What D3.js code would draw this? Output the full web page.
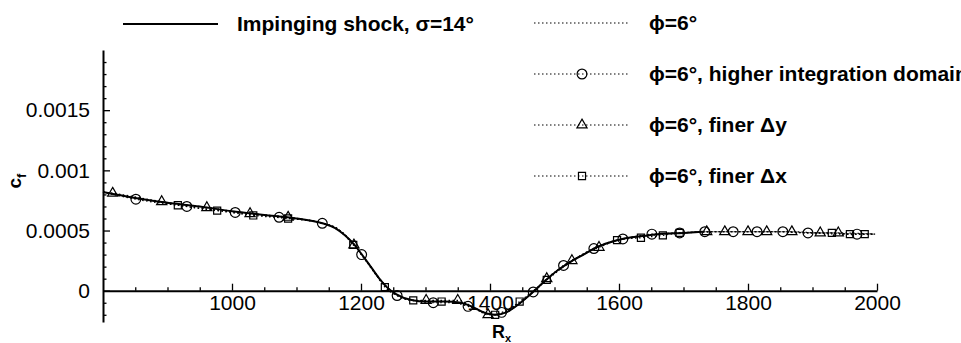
<!DOCTYPE html>
<html>
<head>
<meta charset="utf-8">
<script src="https://cdn.jsdelivr.net/npm/d3@7"></script>
<style>
	body { margin: 0; background: #fff; }
	svg { display: block; font-family: "Liberation Sans", Arial, sans-serif; }
	.tick text { font-size: 21px; fill: #000; }
	.legend text { font-size: 21px; font-weight: bold; }
</style>
</head>
<body>
<svg id="chart" width="961" height="343"></svg>
<script>
// impinging shock, sigma = 14 deg (solid)
var shockX  = [800, 850, 900, 950, 1000, 1050, 1100, 1140, 1160, 1175, 1190, 1200, 1215, 1230, 1240, 1255, 1280, 1300, 1330, 1355, 1375, 1395, 1410, 1425, 1445, 1465, 1485, 1505, 1525, 1545, 1565, 1585, 1605, 1630, 1660, 1700, 1730];
var shockCf = [0.00082, 0.00077, 0.00073, 0.00070, 0.00066, 0.00063, 0.00060, 0.00056, 0.00052, 0.00046, 0.00038, 0.00031, 0.00020, 0.00009, 0.00003, -0.00003, -0.00008, -0.00009, -0.00009, -0.00010, -0.00014, -0.00019, -0.00020, -0.00018, -0.00011, -0.00002, 0.00008, 0.00017, 0.00024, 0.00030, 0.00036, 0.00040, 0.00043, 0.00045, 0.00047, 0.00048, 0.00049];

// phi = 6 deg (dotted, no symbols)
var phiX  = [800, 850, 900, 950, 1000, 1050, 1100, 1140, 1160, 1175, 1190, 1200, 1215, 1230, 1240, 1255, 1280, 1300, 1330, 1355, 1375, 1395, 1410, 1425, 1445, 1465, 1485, 1505, 1525, 1545, 1565, 1585, 1605, 1630, 1660, 1700, 1750, 1800, 1850, 1900, 1950, 1997];
var phiCf = [0.00082, 0.00077, 0.00073, 0.00070, 0.00066, 0.00063, 0.00060, 0.00056, 0.00052, 0.00046, 0.00038, 0.00031, 0.00020, 0.00009, 0.00003, -0.00003, -0.00008, -0.00009, -0.00009, -0.00010, -0.00014, -0.00019, -0.00020, -0.00018, -0.00011, -0.00002, 0.00008, 0.00017, 0.00024, 0.00030, 0.00036, 0.00040, 0.00043, 0.00045, 0.00047, 0.00048, 0.00049, 0.00049, 0.00049, 0.00048, 0.00047, 0.00047];

// phi = 6 deg, higher integration domain (circles)
var domX   = [800, 851, 930, 1005, 1073, 1140, 1165, 1185, 1201, 1225, 1240, 1256, 1280, 1312, 1340, 1366, 1390, 1405, 1418, 1440, 1467, 1490, 1514, 1540, 1561, 1585, 1606, 1651, 1694, 1733, 1777, 1814, 1854, 1893, 1930, 1969, 1997];
var domCf  = [0.00082, 0.00076, 0.00070, 0.00065, 0.00061, 0.00056, 0.00051, 0.00041, 0.00030, 0.00012, 0.00003, -0.00004, -0.00008, -0.00010, -0.00010, -0.00013, -0.00018, -0.00020, -0.00018, -0.00012, -0.00001, 0.00010, 0.00021, 0.00029, 0.00035, 0.00040, 0.00043, 0.00047, 0.00048, 0.00049, 0.00049, 0.00049, 0.00049, 0.00048, 0.00048, 0.00047, 0.00047];
var domSym = [851, 930, 1005, 1073, 1140, 1201, 1256, 1312, 1366, 1418, 1467, 1514, 1561, 1606, 1651, 1694, 1733, 1777, 1814, 1854, 1893, 1969];

// phi = 6 deg, finer dy (triangles)
var dyX   = [800, 815, 891, 961, 1028, 1087, 1140, 1165, 1189, 1215, 1240, 1260, 1280, 1301, 1350, 1375, 1397, 1420, 1445, 1465, 1488, 1527, 1569, 1605, 1650, 1700, 1736, 1764, 1800, 1829, 1868, 1912, 1940, 1997];
var dyCf  = [0.00082, 0.00081, 0.00074, 0.00069, 0.00064, 0.00061, 0.00056, 0.00051, 0.00038, 0.00020, 0.00003, -0.00005, -0.00008, -0.00008, -0.00008, -0.00014, -0.00020, -0.00019, -0.00011, -0.00002, 0.00010, 0.00025, 0.00036, 0.00043, 0.00046, 0.00048, 0.00049, 0.00049, 0.00049, 0.00049, 0.00049, 0.00048, 0.00048, 0.00047];
var dySym = [815, 891, 961, 1028, 1087, 1189, 1301, 1350, 1397, 1488, 1527, 1569, 1736, 1764, 1800, 1829, 1868, 1912, 1940];

// phi = 6 deg, finer dx (squares)
var dxX   = [800, 860, 916, 977, 1033, 1087, 1140, 1165, 1188, 1215, 1237, 1260, 1281, 1325, 1355, 1380, 1408, 1425, 1446, 1465, 1488, 1525, 1560, 1597, 1634, 1668, 1694, 1750, 1800, 1850, 1900, 1930, 1958, 1981, 1997];
var dxCf  = [0.00082, 0.000765, 0.00071, 0.000665, 0.000625, 0.00060, 0.00056, 0.00051, 0.00038, 0.00020, 0.00003, -0.00005, -0.00008, -0.00009, -0.00010, -0.00016, -0.00020, -0.00017, -0.00009, -0.00001, 0.00009, 0.00024, 0.00035, 0.00042, 0.00044, 0.00046, 0.00048, 0.00049, 0.00049, 0.00049, 0.00048, 0.00048, 0.00047, 0.00047, 0.00047];
var dxSym = [916, 977, 1033, 1087, 1188, 1237, 1281, 1325, 1408, 1446, 1488, 1597, 1634, 1668, 1694, 1930, 1958, 1981];

var xTicks = [1000, 1200, 1400, 1600, 1800, 2000];
var yTicks = [0, 0.0005, 0.001, 0.0015];
var yTickLabels = ['0', '0.0005', '0.001', '0.0015'];
var legendLabels = ['Impinging shock, \u03c3=14\u00b0', '\u03d5=6\u00b0', '\u03d5=6\u00b0, higher integration domain', '\u03d5=6\u00b0, finer \u0394y', '\u03d5=6\u00b0, finer \u0394x'];

var svg = d3.select('#chart');

var x = d3.scaleLinear().domain([800, 2000]).range([103, 877]);
var y = d3.scaleLinear().domain([-0.00026, 0.002]).range([322, 50]);

var zip = function(xs, ys) {
	return xs.map(function(v, i) { return [v, ys[i]]; });
};

// symbol points are the line points whose x is listed in syms
var pick = function(xs, ys, syms) {
	return syms.map(function(v) { return [v, ys[xs.indexOf(v)]]; });
};

var line = d3.line()
	.x(function(d) { return x(d[0]); })
	.y(function(d) { return y(d[1]); })
	.curve(d3.curveMonotoneX);

// minor ticks first, then the labelled ones on top
var minorX = d3.range(850, 2000, 50).filter(function(v) { return xTicks.indexOf(v) < 0; });
svg.append('g')
	.attr('transform', 'translate(0,' + y(0) + ')')
	.call(d3.axisBottom(x).tickValues(minorX).tickSizeInner(-3.5).tickSizeOuter(0).tickFormat(''))
	.call(function(g) { g.select('.domain').remove(); });

var minorY = d3.range(-2, 20).filter(function(v) { return v % 5 !== 0; }).map(function(v) { return v / 10000; });
svg.append('g')
	.attr('transform', 'translate(' + x(800) + ',0)')
	.call(d3.axisLeft(y).tickValues(minorY).tickSizeInner(-3.5).tickSizeOuter(0).tickFormat(''))
	.call(function(g) { g.select('.domain').remove(); });

svg.append('g')
	.attr('transform', 'translate(0,' + y(0) + ')')
	.call(d3.axisBottom(x).tickValues(xTicks).tickSizeInner(-7).tickSizeOuter(0).tickPadding(4).tickFormat(d3.format('d')));

svg.append('g')
	.attr('transform', 'translate(' + x(800) + ',0)')
	.call(d3.axisLeft(y).tickValues(yTicks).tickSizeInner(-7).tickSizeOuter(0).tickPadding(13)
		.tickFormat(function(d, i) { return yTickLabels[i]; }));

svg.selectAll('.domain').attr('stroke', '#000').attr('stroke-width', 2);
svg.selectAll('.tick line').attr('stroke', '#000').attr('stroke-width', 1.3);

// axis titles
var yt = svg.append('text')
	.attr('transform', 'translate(21,181) rotate(-90)')
	.attr('text-anchor', 'middle')
	.attr('font-size', 19)
	.attr('font-weight', 'bold');
yt.append('tspan').text('c');
yt.append('tspan').attr('font-size', 13).attr('dy', 5).text('f');

var xt = svg.append('text')
	.attr('x', 492)
	.attr('y', 338)
	.attr('font-size', 18)
	.attr('font-weight', 'bold');
xt.append('tspan').text('R');
xt.append('tspan').attr('font-size', 11).attr('dy', 4).text('x');

// curves
var dotted = [zip(phiX, phiCf), zip(domX, domCf), zip(dyX, dyCf), zip(dxX, dxCf)];
svg.append('g').selectAll('path')
	.data(dotted)
	.enter().append('path')
	.attr('d', line)
	.attr('fill', 'none')
	.attr('stroke', '#000')
	.attr('stroke-width', 1.2)
	.attr('stroke-dasharray', '1.5,2.5');

svg.append('path')
	.attr('d', line(zip(shockX, shockCf)))
	.attr('fill', 'none')
	.attr('stroke', '#000')
	.attr('stroke-width', 2);

var symbols = [
	{ pts: pick(domX, domCf, domSym), type: d3.symbolCircle, size: 75 },
	{ pts: pick(dyX, dyCf, dySym), type: d3.symbolTriangle, size: 45 },
	{ pts: pick(dxX, dxCf, dxSym), type: d3.symbolSquare, size: 50 }
];

symbols.forEach(function(s) {
	svg.append('g').selectAll('path')
		.data(s.pts)
		.enter().append('path')
		.attr('transform', function(d) { return 'translate(' + x(d[0]) + ',' + y(d[1]) + ')'; })
		.attr('d', d3.symbol().type(s.type).size(s.size))
		.attr('fill', 'none')
		.attr('stroke', '#000')
		.attr('stroke-width', 1.2);
});

// legend
var legend = svg.append('g').attr('class', 'legend');
var rowY = [24, 23, 74, 125, 176];
var lineX = [[123, 218], [534, 630], [534, 630], [534, 630], [534, 630]];
var textX = [237, 649, 649, 649, 649];
var legendSym = [null, null, d3.symbolCircle, d3.symbolTriangle, d3.symbolSquare];
var legendSize = [0, 0, 75, 45, 50];

legendLabels.forEach(function(label, i) {
	legend.append('line')
		.attr('x1', lineX[i][0]).attr('x2', lineX[i][1])
		.attr('y1', rowY[i]).attr('y2', rowY[i])
		.attr('stroke', '#000')
		.attr('stroke-width', i === 0 ? 2 : 1.2)
		.attr('stroke-dasharray', i === 0 ? null : '1.5,2.5');
	if (legendSym[i]) {
		legend.append('path')
			.attr('transform', 'translate(' + (lineX[i][0] + lineX[i][1]) / 2 + ',' + rowY[i] + ')')
			.attr('d', d3.symbol().type(legendSym[i]).size(legendSize[i]))
			.attr('fill', 'none')
			.attr('stroke', '#000')
			.attr('stroke-width', 1.2);
	}
	legend.append('text')
		.attr('x', textX[i])
		.attr('y', rowY[i] + 7)
		.text(label);
});
</script>
</body>
</html>
